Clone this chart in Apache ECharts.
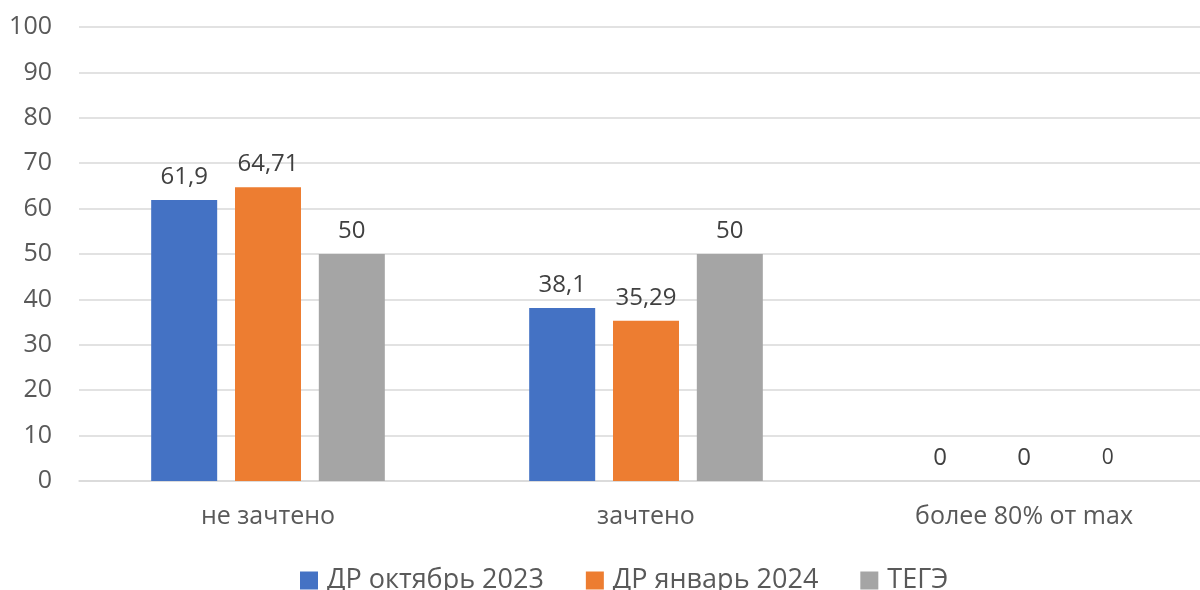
<!DOCTYPE html>
<html>
<head>
<meta charset="utf-8">
<script src="https://cdn.jsdelivr.net/npm/echarts@6/dist/echarts.min.js"></script>
<style>html,body{margin:0;padding:0;background:#fff}#c{width:1200px;height:590px}</style>
</head>
<body>
<div id="c"></div>
<script>
var categories = ['не зачтено', 'зачтено', 'более 80% от max'];
var seriesNames = ['ДР октябрь 2023', 'ДР январь 2024', 'ТЕГЭ'];
var valuesOct2023 = [61.9, 38.1, 0];
var valuesJan2024 = [64.71, 35.29, 0];
var valuesTEGE = [50, 50, 0];
var yTicks = { min: 0, max: 100, interval: 10 };

var colors = ['#4472C4', '#ED7D31', '#A5A5A5'];
var fontFam = '"Open Sans", "Noto Sans", sans-serif';
var txt = '#595959';

function fmt(v) { return String(v).replace('.', ','); }

function mkSeries(name, vals, color, smallLast) {
  return {
    name: name,
    type: 'bar',
    barWidth: 66,
    barGap: '27%',
    itemStyle: { color: color },
    label: {
      show: true, position: 'top', distance: 11,
      color: '#404040', fontSize: 24, fontFamily: fontFam,
      formatter: function (p) { return fmt(p.value); }
    },
    data: vals.map(function (v, i) {
      if (smallLast && i === vals.length - 1) {
        return { value: v, label: { fontSize: 21, distance: 12 } };
      }
      return v;
    })
  };
}

var chart = echarts.init(document.getElementById('c'), null, { renderer: 'canvas' });
chart.setOption({
  animation: false,
  backgroundColor: '#fff',
  color: colors,
  grid: { left: 79, top: 27, bottom: 109, width: 1134, containLabel: false, outerBoundsMode: 'none' },
  legend: {
    left: 295, top: 562,
    itemWidth: 18, itemHeight: 18, itemGap: 42,
    icon: 'rect',
    textStyle: { color: txt, fontSize: 27, fontFamily: fontFam, padding: [0, 0, 0, 4] },
    data: seriesNames
  },
  xAxis: {
    type: 'category',
    data: categories,
    axisLine: { show: true, lineStyle: { color: '#D9D9D9', width: 1.5 } },
    axisTick: { show: false },
    axisLabel: { color: txt, fontSize: 25, fontFamily: fontFam, margin: 23 }
  },
  yAxis: {
    type: 'value',
    min: yTicks.min, max: yTicks.max, interval: yTicks.interval,
    axisLine: { show: false },
    axisTick: { show: false },
    axisLabel: { color: txt, fontSize: 25, fontFamily: fontFam, margin: 27 },
    splitLine: { lineStyle: { color: '#D9D9D9', width: 1.5 } }
  },
  series: [
    mkSeries(seriesNames[0], valuesOct2023, colors[0], false),
    mkSeries(seriesNames[1], valuesJan2024, colors[1], false),
    mkSeries(seriesNames[2], valuesTEGE, colors[2], true)
  ]
});
</script>
</body>
</html>
